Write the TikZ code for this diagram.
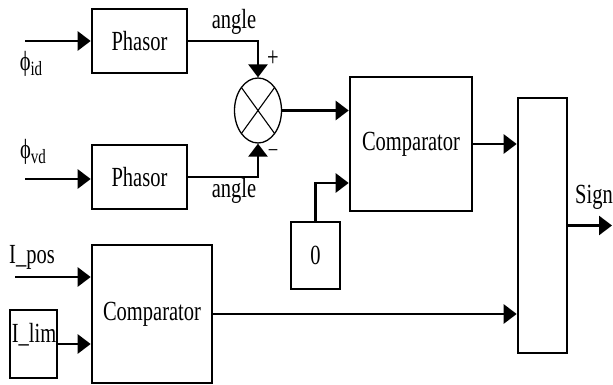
\documentclass[tikz,border=0pt]{standalone}
\usepackage{fontspec}
\setmainfont{Liberation Serif}
\usetikzlibrary{arrows.meta,shapes.geometric,calc}
\newcommand\tx[1]{\scalebox{1}[1.35]{#1}}
\begin{document}
\begin{tikzpicture}[x=1pt,y=-1pt,
  every node/.style={font=\fontsize{20.5}{24}\selectfont},
  blk/.style={draw,line width=2.6pt,inner sep=0pt,rectangle},
  lbl/.style={inner sep=0pt},
  wire/.style={line width=2.6pt},
  arr/.style={wire,-{Triangle[length=13pt,width=19pt]}}]
\useasboundingbox (0,0) rectangle (613,385);
\node[blk,minimum width=95pt,minimum height=64pt] (p1) at (139.5,41) {\tx{Phasor}};
\node[blk,minimum width=95pt,minimum height=64pt] (p2) at (139.5,177) {\tx{Phasor}};
\node[draw,ellipse,line width=1.3pt,minimum width=47pt,minimum height=65pt,inner sep=0pt] (mult) at (258,110.5) {};
\draw[line width=1.1pt] ($(mult.center)+(-16.6,-23)$) -- ($(mult.center)+(16.6,23)$);
\draw[line width=1.1pt] ($(mult.center)+(-16.6,23)$) -- ($(mult.center)+(16.6,-23)$);
\node[blk,minimum width=122pt,minimum height=134pt] (c1) at (411,144) {\tx{Comparator}};
\node[blk,minimum width=49pt,minimum height=67pt] (zero) at (315.5,255.5) {\tx{0}};
\node[blk,minimum width=49pt,minimum height=255pt] (fin) at (542.5,225.5) {};
\node[blk,minimum width=120pt,minimum height=138pt] (c2) at (152,314) {\tx{Comparator}};
\node[blk,minimum width=47pt,minimum height=68pt] (lim) at (33.5,344) {};
% labels
\node[lbl] (lid) at (31,64) {\tx{ϕ\raisebox{-0.35ex}{\fontsize{15}{15}\selectfont id}}};
\node[lbl] (lvd) at (33,152) {\tx{ϕ\raisebox{-0.35ex}{\fontsize{15}{15}\selectfont vd}}};
\node[lbl] (a1) at (234,22) {\tx{angle}};
\node[lbl] (a2) at (234,191) {\tx{angle}};
\node[lbl] (plus) at (273,59) {\tx{+}};
\node[lbl] (minus) at (273,153) {\tx{\fontsize{17}{17}\selectfont –}};
\node[lbl] (lpos) at (32,257) {\tx{I\_pos}};
\node[lbl] (llim) at (34,335) {\tx{I\_lim}};
\node[lbl] (sign) at (594,197) {\tx{Sign}};
% coordinates
\coordinate (inid) at (25,41);
\coordinate (invd) at (25,179);
\coordinate (inpos) at (15,277);
\coordinate (out) at (612,225.5);
% connectors
\draw[arr] (inid) -- (inid -| p1.west);
\draw[arr] (invd) -- (invd -| p2.west);
\draw[arr] (p1.east) -| (mult.north);
\draw[arr] (p2.east) -| (mult.south);
\draw[arr] (mult.east) -- (mult.east -| c1.west);
\draw[arr] (zero.north) |- ($(c1.west)+(0,39)$);
\draw[arr] (c1.east) -- (c1.east -| fin.west);
\draw[arr] (c2.east) -- (c2.east -| fin.west);
\draw[arr] (fin.east) -- (out);
\draw[arr] (inpos) -- (inpos -| c2.west);
\draw[arr] (lim.east) -- (lim.east -| c2.west);
\end{tikzpicture}
\end{document}
